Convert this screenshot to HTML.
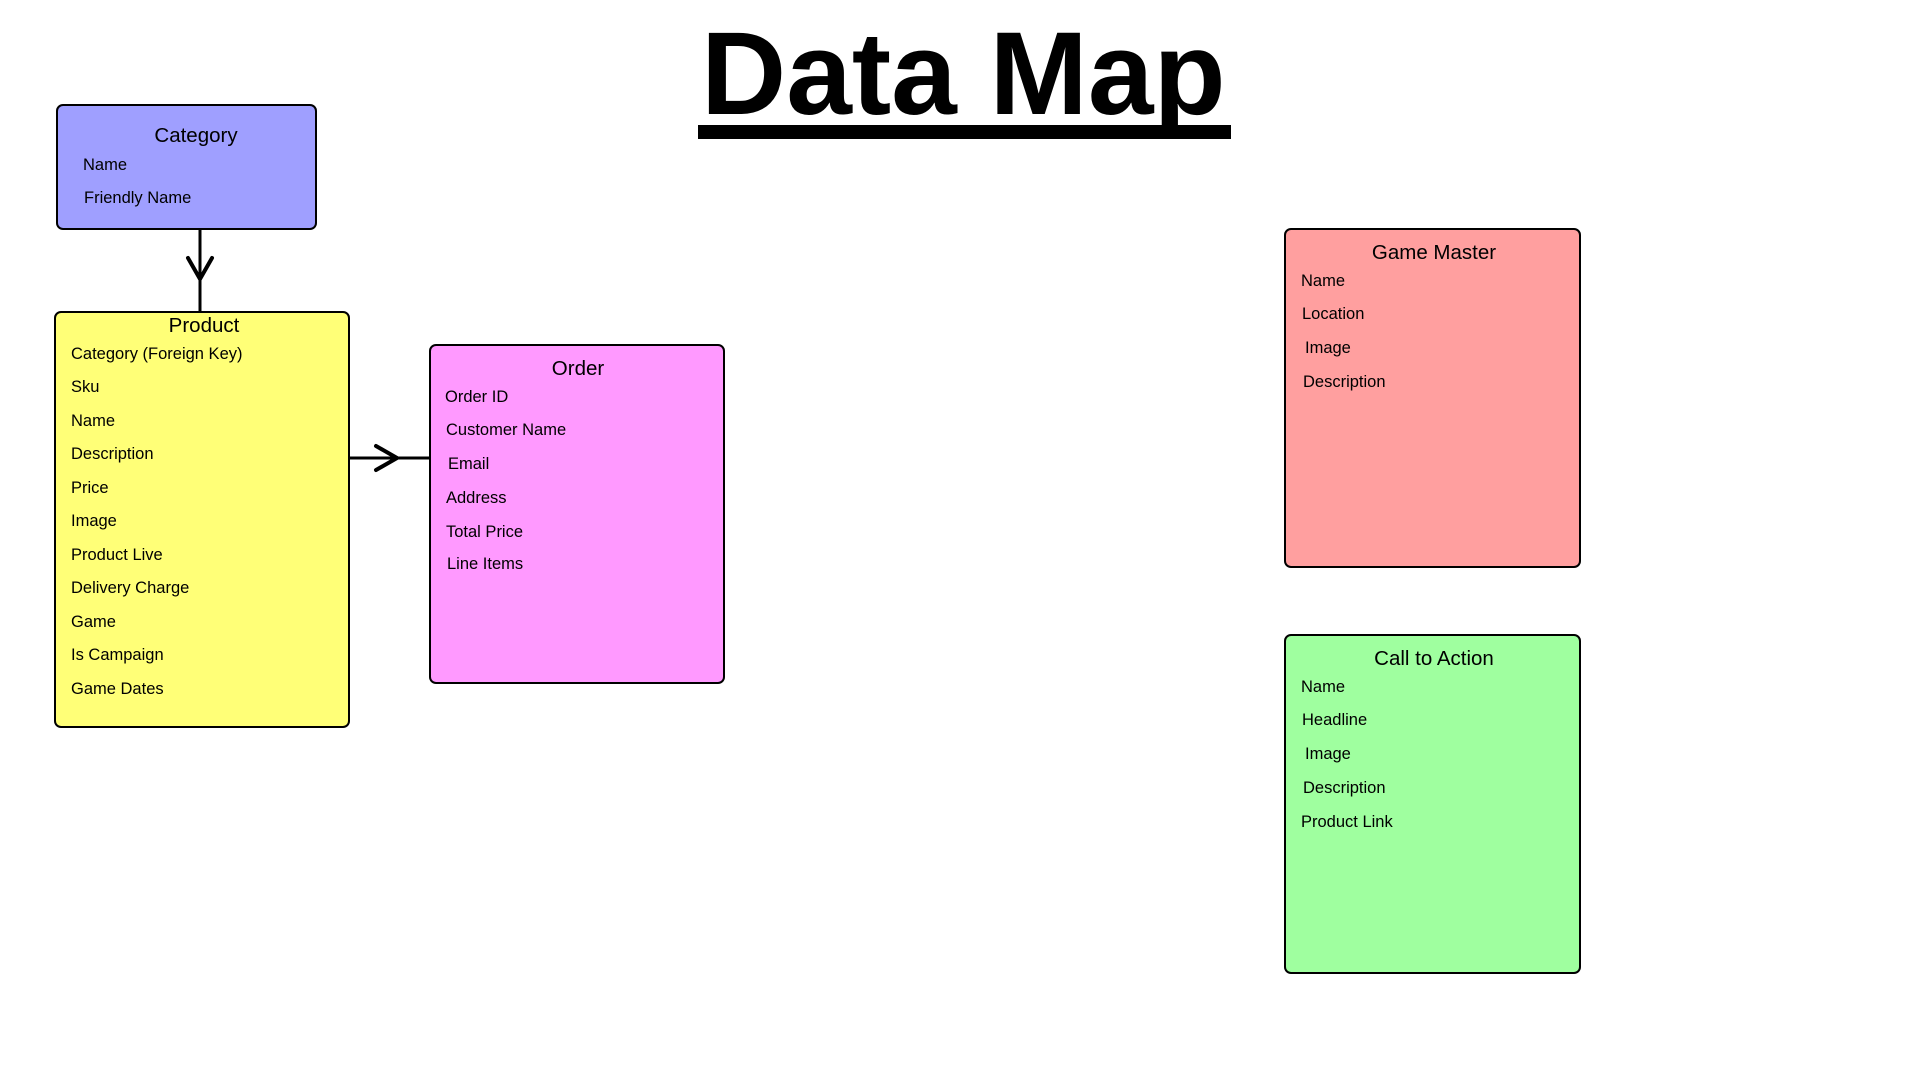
<!DOCTYPE html>
<html><head><meta charset="utf-8"><style>
html,body{margin:0;padding:0;background:#fff;width:1920px;height:1080px;overflow:hidden;font-family:"Liberation Sans",Arial,sans-serif;}
.abs{position:absolute;}
.box{position:absolute;border:2px solid #000;border-radius:7px;box-sizing:border-box;}
.t{position:absolute;font-size:16.5px;color:#000;white-space:nowrap;transform:translateY(-50%);line-height:20px;margin-top:1px;}
.h{position:absolute;font-size:20.5px;color:#000;white-space:nowrap;transform:translate(-50%,-50%);line-height:24px;margin-top:1px;}
</style></head><body>
<div class="abs" style="left:701px;top:15px;font-size:118px;font-weight:bold;line-height:118px;transform:scaleX(1.0);transform-origin:left top;white-space:nowrap;">Data Map</div>
<div class="abs" style="left:698px;top:125px;width:533px;height:14px;background:#000;"></div>

<svg class="abs" style="left:0;top:0" width="1920" height="1080">
<g stroke="#000" stroke-width="3" fill="none" stroke-linecap="round" stroke-linejoin="round">
<line x1="200" y1="229" x2="200" y2="311"/>
<polyline points="188,258 200,279 212,258" stroke-width="4"/>
<line x1="349" y1="458" x2="429" y2="458"/>
<polyline points="376,446 397,458 376,470" stroke-width="4"/>
</g>
</svg>

<div class="box" style="left:56px;top:104px;width:261px;height:126px;background:#9f9fff;"></div>
<div class="h" style="left:196px;top:135px;">Category</div>
<div class="t" style="left:83px;top:164px;">Name</div>
<div class="t" style="left:84px;top:197px;">Friendly Name</div>

<div class="box" style="left:54px;top:311px;width:296px;height:417px;background:#ffff77;"></div>
<div class="h" style="left:204px;top:325px;">Product</div>
<div class="t" style="left:71px;top:353px;">Category (Foreign Key)</div>
<div class="t" style="left:71px;top:386px;">Sku</div>
<div class="t" style="left:71px;top:420px;">Name</div>
<div class="t" style="left:71px;top:453px;">Description</div>
<div class="t" style="left:71px;top:487px;">Price</div>
<div class="t" style="left:71px;top:520px;">Image</div>
<div class="t" style="left:71px;top:554px;">Product Live</div>
<div class="t" style="left:71px;top:587px;">Delivery Charge</div>
<div class="t" style="left:71px;top:621px;">Game</div>
<div class="t" style="left:71px;top:654px;">Is Campaign</div>
<div class="t" style="left:71px;top:688px;">Game Dates</div>

<div class="box" style="left:429px;top:344px;width:296px;height:340px;background:#ff99ff;"></div>
<div class="h" style="left:578px;top:368px;">Order</div>
<div class="t" style="left:445px;top:396px;">Order ID</div>
<div class="t" style="left:446px;top:429px;">Customer Name</div>
<div class="t" style="left:448px;top:463px;">Email</div>
<div class="t" style="left:446px;top:497px;">Address</div>
<div class="t" style="left:446px;top:531px;">Total Price</div>
<div class="t" style="left:447px;top:563px;">Line Items</div>

<div class="box" style="left:1284px;top:228px;width:297px;height:340px;background:#ff9f9f;"></div>
<div class="h" style="left:1434px;top:252px;">Game Master</div>
<div class="t" style="left:1301px;top:280px;">Name</div>
<div class="t" style="left:1302px;top:313px;">Location</div>
<div class="t" style="left:1305px;top:347px;">Image</div>
<div class="t" style="left:1303px;top:381px;">Description</div>

<div class="box" style="left:1284px;top:634px;width:297px;height:340px;background:#9fff9f;"></div>
<div class="h" style="left:1434px;top:658px;">Call to Action</div>
<div class="t" style="left:1301px;top:686px;">Name</div>
<div class="t" style="left:1302px;top:719px;">Headline</div>
<div class="t" style="left:1305px;top:753px;">Image</div>
<div class="t" style="left:1303px;top:787px;">Description</div>
<div class="t" style="left:1301px;top:821px;">Product Link</div>
</body></html>
